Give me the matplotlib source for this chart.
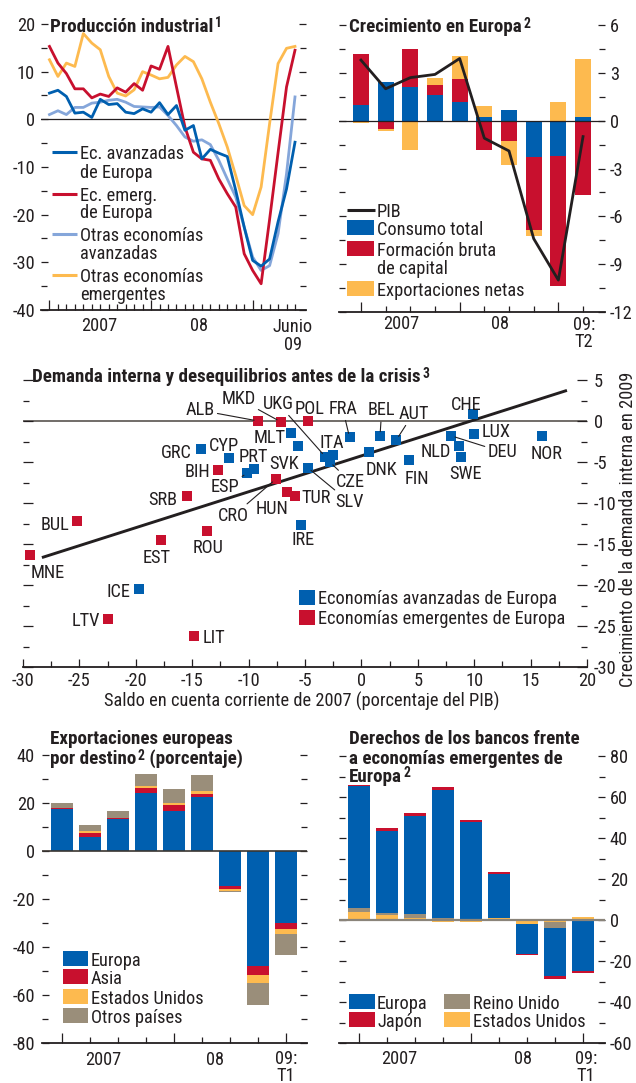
import numpy as np
import matplotlib
matplotlib.use('Agg')
import matplotlib.pyplot as plt
from matplotlib import font_manager as fm
from matplotlib.lines import Line2D
from matplotlib.patches import Rectangle
from matplotlib.ticker import MultipleLocator, FixedLocator
from matplotlib.transforms import blended_transform_factory

W, H, DPI = 636, 1083, 100

INK = '#231f20'
BLUE = '#005faf'
RED = '#c8102e'
ORANGE = '#fdba4f'
GRAY = '#9a8e7a'
LIGHT_BLUE = '#85a6da'
ZERO_GRAY = '#8a847a'

# ---------------------------------------------------------------- data
# Industrial production, % change, Jan 2007 .. Jun 2009
ip_months = np.arange(30)
ip_adv_europe = [5.5, 6.1, 4.8, 1.3, 1.5, 0.4, 4.2, 3.1, 3.3, 1.5, 1.2, 2.2, 1.5, 3.5, 1.0,
                 2.9, -2.3, -1.3, -8.3, -6.3, -7.1, -7.8, -14.9, -22.6, -29.6, -30.8, -29.3,
                 -21.5, -14.6, -4.8]
ip_emg_europe = [15.3, 11.8, 9.6, 6.4, 6.4, 4.5, 5.3, 4.8, 6.6, 5.7, 7.5, 6.1, 11.2, 10.5, 15.3,
                 6.8, -1.6, -6.9, -8.3, -8.6, -12.5, -15.6, -18.4, -28.2, -31.7, -34.5, -21.0,
                 -7.0, 6.8, 14.5]
ip_other_adv = [1.0, 1.8, 1.0, 2.5, 2.5, 3.4, 3.6, 4.0, 4.2, 3.6, 2.7, 2.6, 2.5, 2.6, 0.8,
                -1.3, -3.7, -4.6, -4.3, -5.3, -8.6, -12.5, -16.3, -22.6, -28.9, -31.7, -30.7,
                -24.0, -11.4, 4.7]
ip_other_emg = [12.5, 9.0, 11.8, 11.1, 18.0, 16.0, 14.6, 9.0, 5.5, 4.9, 6.2, 10.0, 9.3, 8.5, 8.8,
                11.4, 13.2, 12.1, 8.5, 3.6, -0.9, -5.8, -11.8, -18.1, -20.0, -14.2, -0.9,
                11.7, 14.9, 15.3]

# Growth in Europe, contributions by quarter, 2007:T1 .. 2009:T2
growth_quarters = np.arange(10)
gdp = [3.8, 2.0, 2.7, 2.9, 3.9, -1.1, -1.9, -7.4, -10.0, -1.0]
total_consumption = [1.0, 2.4, 2.1, 1.6, 1.15, 0.2, 0.65, -2.3, -2.2, 0.25]
capital_formation = [3.2, -0.5, 2.4, 0.65, 1.45, -1.87, -1.25, -4.55, -8.2, -4.65]
net_exports = [-0.17, -0.15, -1.87, 0.45, 1.45, 0.7, -1.55, -0.4, 1.2, 3.6]

# Current account 2007 (% of GDP) vs domestic demand growth 2009
adv_codes = ['GRC', 'CYP', 'PRT', 'ESP', 'MLT', 'SVK', 'SLV', 'UKG', 'ITA', 'CZE', 'IRE', 'ICE',
             'FRA', 'BEL', 'AUT', 'DNK', 'FIN', 'NLD', 'DEU', 'SWE', 'CHE', 'LUX', 'NOR']
adv_current_account = [-14.2, -11.7, -9.55, -10.1, -6.2, -5.6, -4.75, -3.2, -2.5, -2.8, -5.35,
                       -19.7, -1.05, 1.65, 3.1, 0.7, 4.2, 8.65, 7.95, 8.85, 9.85, 10.0, 16.0]
adv_demand_growth = [-3.4, -4.5, -5.8, -6.35, -1.5, -3.05, -5.7, -4.35, -4.15, -5.0, -12.7,
                     -20.5, -2.0, -1.8, -2.3, -3.75, -4.7, -3.1, -1.8, -4.35, 0.8, -1.55, -1.8]
emg_codes = ['ALB', 'MKD', 'POL', 'BIH', 'SRB', 'CRO', 'HUN', 'TUR', 'BUL', 'EST', 'ROU', 'MNE',
             'LTV', 'LIT']
emg_current_account = [-9.15, -7.15, -4.75, -12.7, -15.5, -7.6, -6.6, -5.9, -25.2, -17.8,
                       -13.7, -29.4, -22.5, -14.8]
emg_demand_growth = [0.0, -0.1, 0.0, -6.0, -9.2, -7.1, -8.7, -9.1, -12.2, -14.5, -13.4, -16.4,
                     -24.1, -26.2]
trend_slope = 0.438
trend_intercept = -4.25
trend_span = [-28.2, 18.1]

# European exports by destination, 2007:T1 .. 2009:T1
exp_quarters = np.arange(9)
exp_europe = [17.4, 6.0, 13.2, 24.3, 16.8, 22.4, -14.4, -47.8, -29.9]
exp_asia = [0.4, 1.6, 0.7, 1.95, 2.4, 1.35, -1.4, -3.9, -2.6]
exp_us = [0.0, 0.7, 0.0, 0.95, 0.8, 1.25, -0.9, -3.2, -1.9]
exp_other = [2.2, 2.5, 2.9, 4.9, 5.8, 6.7, -0.4, -9.3, -8.9]

# Bank claims on emerging Europe, 2007:T1 .. 2009:T1
claims_quarters = np.arange(9)
claims_us = [4.1, 2.6, 1.1, -1.1, -0.8, 1.1, -1.8, -0.8, 1.3]
claims_uk = [1.6, 1.0, 2.0, 1.1, -0.3, -0.5, -0.3, -3.3, 0.0]
claims_europe = [59.8, 39.7, 47.7, 62.2, 47.8, 21.3, -14.5, -23.3, -24.8]
claims_japan = [0.5, 1.4, 1.3, 1.5, 0.9, 0.8, -0.5, -1.2, -1.0]


# ---------------------------------------------------------------- fonts
def pick_font():
    entries = fm.fontManager.ttflist
    names = {f.name for f in entries}
    for name in ['Roboto Condensed', 'Liberation Sans Narrow', 'Arial Narrow',
                 'Nimbus Sans Narrow', 'Noto Sans Condensed', 'DejaVu Sans Condensed']:
        if name in names:
            return name, 'normal'
    for f in entries:
        if f.name == 'DejaVu Sans' and str(f.stretch) in ('condensed', 'semi-condensed'):
            return 'DejaVu Sans', 'condensed'
    for name in ['Roboto', 'Lato', 'Liberation Sans']:
        if name in names:
            return name, 'normal'
    return 'DejaVu Sans', 'normal'


FONT, STRETCH = pick_font()
plt.rcParams.update({
    'font.family': [FONT, 'DejaVu Sans'],
    'font.stretch': STRETCH,
    'axes.unicode_minus': False,
    'text.color': INK,
    'xtick.color': INK, 'ytick.color': INK,
    'xtick.labelcolor': INK, 'ytick.labelcolor': INK,
})

fig = plt.figure(figsize=(W / DPI, H / DPI), dpi=DPI)
_renderer = fig.canvas.get_renderer()


def _width(s, weight):
    t = fig.text(0, 0, s, fontsize=14, weight=weight)
    w = t.get_window_extent(_renderer).width
    t.remove()
    return w


# body and heading sizes chosen so that line widths come out as in the layout
BODY_SIZE = min(14.5, 14 * 240 / _width('Economías avanzadas de Europa', 'normal'))
HEAD_SIZE = min(14.5, 14 * 390 / _width('Demanda interna y desequilibrios antes de la crisis',
                                       'bold'))
SUP_SIZE = HEAD_SIZE * 0.72
plt.rcParams['font.size'] = BODY_SIZE


# --------------------------------------------------------------- helpers
def px_axes(l, t, r, b):
    return fig.add_axes([l / W, 1 - b / H, (r - l) / W, (b - t) / H])


def fig_text(x, y, s, bold=False, **kw):
    kw.setdefault('va', 'center_baseline')
    kw.setdefault('ha', 'left')
    return fig.text(x / W, 1 - y / H, s, fontsize=HEAD_SIZE if bold else BODY_SIZE,
                    weight='bold' if bold else 'normal', **kw)


def heading(ax, x, lines):
    """lines: list of (y, text, sup, tail)"""
    for y, text, sup, tail in lines:
        t = fig_text(x, y, text, bold=True)
        if sup:
            s = ax.annotate(sup, xy=(1, 1), xycoords=t, xytext=(1.2, 1.2),
                            textcoords='offset points', ha='left', va='top',
                            fontsize=SUP_SIZE, weight='bold', annotation_clip=False)
            if tail:
                ax.annotate(tail, xy=(1, 0), xycoords=(s, t), xytext=(0, 0),
                            textcoords='offset points', ha='left', va='bottom',
                            fontsize=HEAD_SIZE, weight='bold', annotation_clip=False)


def fig_rect(l, t, r, b, color):
    fig.add_artist(Rectangle((l / W, 1 - b / H), (r - l) / W, (b - t) / H,
                             transform=fig.transFigure, facecolor=color, lw=0))


def fig_line(x0, x1, y, color, lw):
    fig.add_artist(Line2D([x0 / W, x1 / W], [1 - y / H] * 2, transform=fig.transFigure,
                          color=color, lw=lw, solid_capstyle='butt'))


def frame(ax, label_side, pad):
    for side in ('top', 'left', 'right'):
        ax.spines[side].set_visible(False)
    ax.spines['bottom'].set_color(INK)
    ax.spines['bottom'].set_linewidth(1.3)
    ax.patch.set_alpha(0)
    ax.tick_params(axis='y', which='both', direction='in', left=True, right=True,
                   width=0.9, labelsize=BODY_SIZE, pad=pad,
                   labelleft=(label_side == 'left'), labelright=(label_side == 'right'))
    ax.tick_params(axis='y', which='major', length=5)
    ax.tick_params(axis='y', which='minor', length=4)
    ax.tick_params(axis='x', which='both', direction='in', bottom=True, top=False,
                   labelbottom=False, width=0.9)
    ax.tick_params(axis='x', which='major', length=7)
    ax.tick_params(axis='x', which='minor', length=4.5)


def period_axis(ax, n, majors, labels):
    """labels: list of (x in data units, y in figure px, text)"""
    ax.xaxis.set_major_locator(FixedLocator(majors))
    ax.xaxis.set_minor_locator(FixedLocator(list(range(n))))
    tr = blended_transform_factory(ax.transData, fig.transFigure)
    for x, y, s in labels:
        ax.text(x, 1 - y / H, s, transform=tr, ha='center', va='center_baseline',
                fontsize=BODY_SIZE, linespacing=0.93, multialignment='center',
                clip_on=False)


def stacked(ax, x, layers, colors, width):
    pos = np.zeros(len(x))
    neg = np.zeros(len(x))
    for vals, c in zip(layers, colors):
        v = np.asarray(vals, float)
        base = np.where(v >= 0, pos, neg)
        ax.bar(x, v, width, bottom=base, color=c, linewidth=0, zorder=2)
        pos += np.clip(v, 0, None)
        neg += np.clip(v, None, 0)


# ------------------------------------------------- industrial production
ax1 = px_axes(41, 24, 306, 310)
frame(ax1, 'left', 4.3)
ax1.set_ylim(-40, 20)
ax1.set_xlim(-1.0, 30.3)
ax1.yaxis.set_major_locator(MultipleLocator(10))
ax1.yaxis.set_minor_locator(MultipleLocator(5))
ax1.axhline(0, color=INK, lw=0.9, zorder=1)
ax1.plot(ip_months, ip_other_emg, color=ORANGE, lw=2.0, zorder=2)
ax1.plot(ip_months, ip_other_adv, color=LIGHT_BLUE, lw=2.0, zorder=3)
ax1.plot(ip_months, ip_emg_europe, color=RED, lw=2.0, zorder=4)
ax1.plot(ip_months, ip_adv_europe, color=BLUE, lw=2.0, zorder=5)
period_axis(ax1, 30, [0, 12, 24],
            [(5.9, 324, '2007'), (17.7, 324, '08'), (28.75, 334.5, 'Junio\n09')])
heading(ax1, 50, [(25, 'Producción industrial', '1', None)])
for color, lines in [(BLUE, [(151.7, 'Ec. avanzadas'), (171, 'de Europa')]),
                     (RED, [(193.7, 'Ec. emerg.'), (211.3, 'de Europa')]),
                     (LIGHT_BLUE, [(234.2, 'Otras economías'), (252.2, 'avanzadas')]),
                     (ORANGE, [(274.7, 'Otras economías'), (293.3, 'emergentes')])]:
    fig_line(51.7, 76.7, lines[0][0], color, 2.2)
    for y, s in lines:
        fig_text(80, y, s)

# --------------------------------------------------------- growth in Europe
ax2 = px_axes(339, 25, 605, 312)
frame(ax2, 'right', 3.5)
ax2.set_ylim(-12, 6)
ax2.set_xlim(-0.89, 9.89)
ax2.yaxis.set_major_locator(MultipleLocator(3))
ax2.yaxis.set_minor_locator(MultipleLocator(1.5))
stacked(ax2, growth_quarters, [total_consumption, capital_formation, net_exports],
        [BLUE, RED, ORANGE], 0.64)
ax2.axhline(0, color=INK, lw=0.9, zorder=3)
ax2.plot(growth_quarters, gdp, color=INK, lw=2.0, zorder=4)
period_axis(ax2, 10, [0, 4, 8],
            [(1.65, 322.5, '2007'), (5.63, 322.5, '08'), (9.04, 331.5, '09:\nT2')])
heading(ax2, 349.3, [(25.5, 'Crecimiento en Europa', '2', None)])
fig_line(346.7, 375, 210, INK, 2.2)
fig_text(377, 210, 'PIB')
fig_rect(347, 220, 374, 235, BLUE)
fig_text(377, 228, 'Consumo total')
fig_rect(347, 240.7, 374, 256, RED)
fig_text(377, 249, 'Formación bruta')
fig_text(377, 267.5, 'de capital')
fig_rect(347, 280.7, 374, 296, ORANGE)
fig_text(377, 289, 'Exportaciones netas')

# ------------------------------------------------ demand vs current account
ax3 = px_axes(23, 380, 587, 667)
frame(ax3, 'right', 5)
ax3.set_xlim(-30, 20)
ax3.set_ylim(-30, 5)
ax3.yaxis.set_major_locator(MultipleLocator(5))
ax3.yaxis.set_minor_locator(MultipleLocator(2.5))
ax3.xaxis.set_major_locator(MultipleLocator(5))
ax3.xaxis.set_minor_locator(MultipleLocator(2.5))
ax3.tick_params(axis='x', which='major', length=6, labelbottom=True, labelsize=BODY_SIZE,
                pad=3.5)
ax3.tick_params(axis='y', which='major', length=7)
ax3.axhline(0, color='#4a4540', lw=1.1, zorder=1)
tx = np.array(trend_span)
ax3.plot(tx, trend_intercept + trend_slope * tx, color=INK, lw=2.1, zorder=3)
ax3.scatter(adv_current_account, adv_demand_growth, marker='s', s=58, color=BLUE, lw=0,
            zorder=4)
ax3.scatter(emg_current_account, emg_demand_growth, marker='s', s=58, color=RED, lw=0,
            zorder=4)

label_at = {
    'ALB': (-14.3, 1.55), 'MKD': (-10.9, 2.97), 'UKG': (-7.37, 2.36), 'POL': (-4.56, 1.75),
    'MLT': (-8.1, -1.8), 'GRC': (-16.4, -3.66), 'CYP': (-12.2, -2.85), 'PRT': (-9.6, -4.15),
    'BIH': (-14.5, -6.0), 'SVK': (-6.86, -5.05), 'ESP': (-12.1, -7.8), 'SRB': (-17.6, -9.4),
    'HUN': (-7.96, -10.5), 'CRO': (-11.35, -11.3), 'TUR': (-4.0, -9.1), 'BUL': (-27.2, -12.5),
    'IRE': (-5.15, -14.3), 'EST': (-18.15, -16.5), 'ROU': (-13.6, -15.3), 'MNE': (-27.85, -18.3),
    'ICE': (-21.55, -20.55), 'LTV': (-24.4, -24.1), 'LIT': (-13.1, -26.25),
    'ITA': (-2.63, -2.5), 'CZE': (-0.95, -7.2), 'SLV': (-1.1, -9.6), 'FRA': (-1.66, 1.75),
    'BEL': (1.8, 1.55), 'AUT': (4.6, 1.14), 'DNK': (1.8, -5.78), 'FIN': (4.9, -6.8),
    'CHE': (9.27, 2.24), 'LUX': (11.9, -1.1), 'NLD': (6.6, -3.54), 'DEU': (12.5, -3.54),
    'SWE': (9.27, -6.2), 'NOR': (16.4, -3.75),
}
with_leader = {'ALB', 'MKD', 'UKG', 'FRA', 'BEL', 'AUT', 'CZE', 'SLV', 'ESP', 'CRO', 'DEU'}
for codes, xs, ys in [(adv_codes, adv_current_account, adv_demand_growth),
                      (emg_codes, emg_current_account, emg_demand_growth)]:
    for code, x, y in zip(codes, xs, ys):
        arrow = None
        if code in with_leader:
            arrow = dict(arrowstyle='-', color=INK, lw=0.8, shrinkA=0, shrinkB=3)
        ax3.annotate(code, xy=(x, y), xytext=label_at[code], textcoords='data',
                     ha='center', va='center_baseline', fontsize=BODY_SIZE, zorder=5,
                     arrowprops=arrow)

heading(ax3, 32, [(375.5, 'Demanda interna y desequilibrios antes de la crisis', '3', None)])
fig_rect(299, 590, 315, 604.5, BLUE)
fig_text(318.3, 596.7, 'Economías avanzadas de Europa')
fig_rect(299, 610, 315, 624.5, RED)
fig_text(318.3, 616.7, 'Economías emergentes de Europa')
fig_text(302, 699.5, 'Saldo en cuenta corriente de 2007 (porcentaje del PIB)', ha='center')
fig_text(628, 529, 'Crecimiento de la demanda interna en 2009', rotation=90,
         ha='center', va='center')

# --------------------------------------------------- exports by destination
ax4 = px_axes(42, 755, 307, 1043)
frame(ax4, 'left', 5)
ax4.set_ylim(-80, 40)
ax4.set_xlim(-0.70, 8.76)
ax4.yaxis.set_major_locator(MultipleLocator(20))
ax4.yaxis.set_minor_locator(MultipleLocator(10))
stacked(ax4, exp_quarters, [exp_europe, exp_asia, exp_us, exp_other],
        [BLUE, RED, ORANGE, GRAY], 0.78)
ax4.axhline(0, color='#3a3530', lw=1.2, zorder=3)
period_axis(ax4, 9, [0, 4, 8],
            [(1.49, 1058.3, '2007'), (5.48, 1058.3, '08'), (8.0, 1066, '09:\nT1')])
heading(ax4, 50, [(737.5, 'Exportaciones europeas', None, None),
                  (757.5, 'por destino', '2', ' (porcentaje)')])
for color, label, (t, b) in [(BLUE, 'Europa', (951, 966)),
                             (RED, 'Asia', (969.3, 984)),
                             (ORANGE, 'Estados Unidos', (989.3, 1004)),
                             (GRAY, 'Otros países', (1008.3, 1023.3))]:
    fig_rect(63.3, t, 88.3, b, color)
    fig_text(91, (t + b) / 2, label)

# ------------------------------------------------ bank claims on emerging Europe
ax5 = px_axes(339, 756, 605, 1043)
frame(ax5, 'right', 3.5)
ax5.set_ylim(-60, 80)
ax5.set_xlim(-0.714, 8.79)
ax5.yaxis.set_major_locator(MultipleLocator(20))
ax5.yaxis.set_minor_locator(MultipleLocator(10))
stacked(ax5, claims_quarters, [claims_us, claims_uk, claims_europe, claims_japan],
        [ORANGE, GRAY, BLUE, RED], 0.8)
ax5.axhline(0, color=ZERO_GRAY, lw=1.6, zorder=3)
period_axis(ax5, 9, [0, 4, 8],
            [(1.43, 1057.5, '2007'), (5.87, 1057.5, '08'), (8.1, 1066, '09:\nT1')])
heading(ax5, 349.3, [(737.5, 'Derechos de los bancos frente', None, None),
                     (757, 'a economías emergentes de', None, None),
                     (775, 'Europa', '2', None)])
fig_rect(349.3, 994, 375, 1008.7, BLUE)
fig_text(377, 1001.7, 'Europa')
fig_rect(349.3, 1012.3, 375, 1026.7, RED)
fig_text(377, 1020, 'Japón')
fig_rect(444, 994, 470, 1008.7, GRAY)
fig_text(472.7, 1001.7, 'Reino Unido')
fig_rect(444, 1012.3, 470, 1026.7, ORANGE)
fig_text(472.7, 1020, 'Estados Unidos')

fig.savefig('out.png', dpi=DPI)
